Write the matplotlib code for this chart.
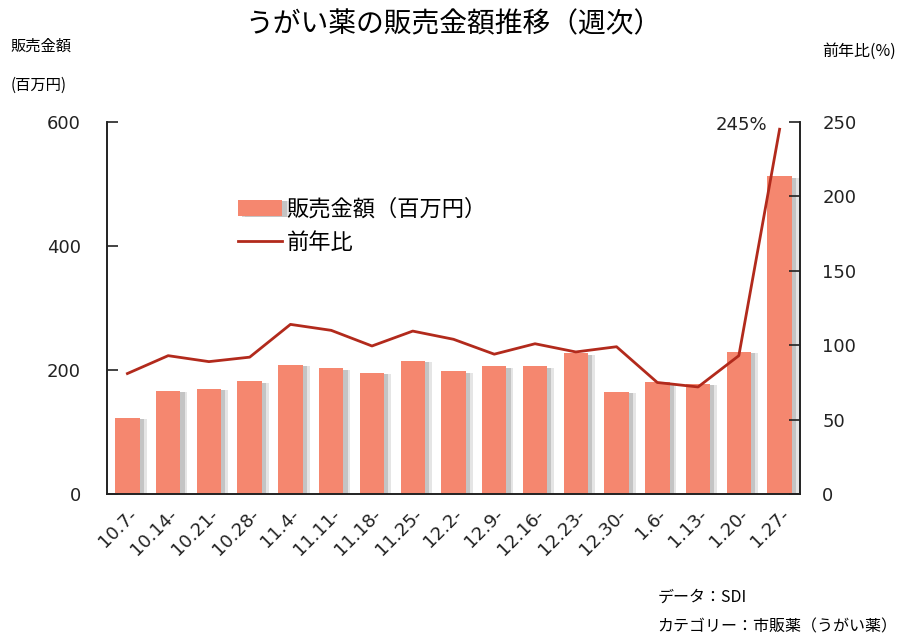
import matplotlib
matplotlib.use("Agg")
import matplotlib.pyplot as plt
import matplotlib.patheffects as pe
import numpy as np

JP = ['Noto Sans CJK JP', 'DejaVu Sans']
plt.rcParams['font.family'] = ['DejaVu Sans', 'Noto Sans CJK JP']

# 週 (開始日)
weeks = ["10.7-", "10.14-", "10.21-", "10.28-", "11.4-", "11.11-", "11.18-", "11.25-",
         "12.2-", "12.9-", "12.16-", "12.23-", "12.30-", "1.6-", "1.13-", "1.20-", "1.27-"]
# 販売金額 (百万円)
sales = [123, 167, 170, 182, 208, 203, 196, 215, 198, 206, 206, 227, 165, 180, 178, 229, 512]
# 前年比 (%)
yoy = [81, 93, 89, 92, 114, 110, 99.5, 109.5, 104, 94, 101, 95.5, 99, 75, 72, 93, 245]

bar_color = "#F5876F"
line_color = "#B22A1C"

fig = plt.figure(figsize=(9.07, 6.41), dpi=100)
ax = fig.add_axes([0.118, 0.229, 0.764, 0.581])
ax2 = ax.twinx()

x = np.arange(len(weeks))
bars = ax.bar(x, sales, width=0.6, color=bar_color, zorder=2, label="販売金額（百万円）")
for b in bars:
    b.set_path_effects([
        pe.SimplePatchShadow(offset=(5, -1), shadow_rgbFace="#999999", alpha=0.25),
        pe.SimplePatchShadow(offset=(3, -1), shadow_rgbFace="#888888", alpha=0.35),
        pe.Normal()])

ax2.plot(x, yoy, color=line_color, lw=2, zorder=3, label="前年比")

ax.set_xlim(-0.5, len(weeks) - 0.5)
ax.set_ylim(0, 600)
ax2.set_ylim(0, 250)
ax.set_yticks([0, 200, 400, 600])
ax2.set_yticks([0, 50, 100, 150, 200, 250])

for a in (ax, ax2):
    a.spines['top'].set_visible(False)
    for s in ('left', 'right', 'bottom'):
        a.spines[s].set_linewidth(1.2)
        a.spines[s].set_color("#222222")
    a.tick_params(axis='y', direction='in', length=8, width=1.2, labelsize=13,
                  colors="#222222")
ax.tick_params(axis='y', pad=19)
ax2.tick_params(axis='y', pad=16)
ax.tick_params(axis='x', length=0, labelsize=13, pad=8, colors="#222222")
ax.set_xticks(x)
ax.set_xticklabels(weeks, rotation=45, ha='right', rotation_mode='anchor')

ax2.text(x[-1] - 0.3, 248, "245%", ha='right', va='center', fontsize=13, color="#222222")

# legend
h1, l1 = ax.get_legend_handles_labels()
h2, l2 = ax2.get_legend_handles_labels()
ax2.legend(h1 + h2, l1 + l2, loc='upper left', bbox_to_anchor=(0.16, 0.85), frameon=False,
           prop={'family': JP, 'size': 16}, handlelength=2.0, handletextpad=0.2,
           labelspacing=0.45)

fig.text(0.5, 0.962, "うがい薬の販売金額推移（週次）", ha='center', va='center', fontsize=20, family=JP)
fig.text(0.012, 0.928, "販売金額", ha='left', va='center', fontsize=11, family=JP)
fig.text(0.012, 0.867, "(百万円)", ha='left', va='center', fontsize=11, family=JP)
fig.text(0.988, 0.92, "前年比(%)", ha='right', va='center', fontsize=11.5, family=JP)
fig.text(0.725, 0.068, "データ：SDI", ha='left', va='center', fontsize=11.5, family=JP)
fig.text(0.725, 0.022, "カテゴリー：市販薬（うがい薬）", ha='left', va='center', fontsize=11.5, family=JP)

fig.savefig("out.png", dpi=100)
